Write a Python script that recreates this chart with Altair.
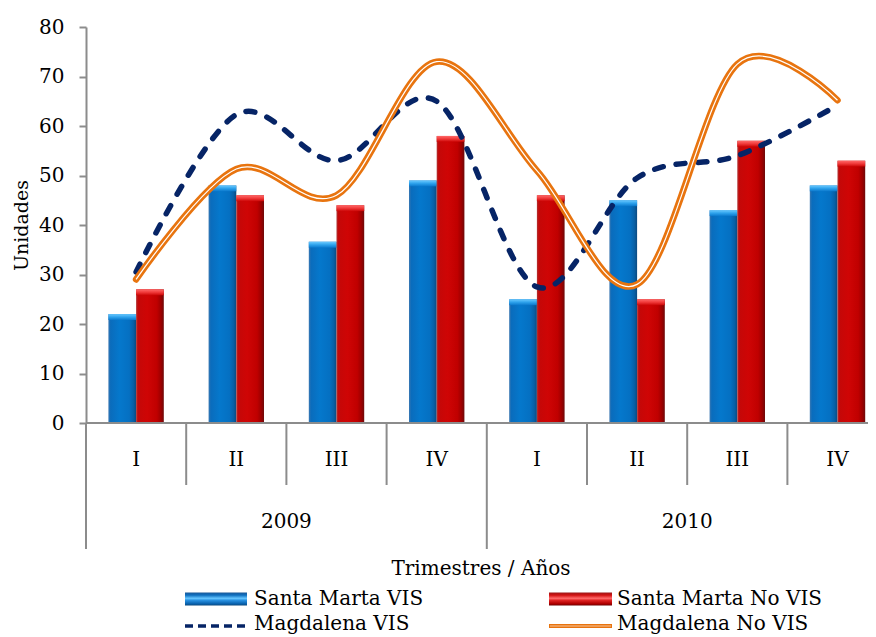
import altair as alt
import pandas as pd

# ---------------- data ----------------
quarters = ["I", "II", "III", "IV"]
years = ["2009", "2010"]
cats = [f"{q} {y}" for y in years for q in quarters]
series = ["Santa Marta VIS", "Santa Marta No VIS", "Magdalena VIS", "Magdalena No VIS"]
sm_vis = [22, 48, 36.6, 49, 25, 45, 43, 48]
sm_novis = [27, 46, 44, 58, 46, 25, 57, 53]
mg_vis = [30.5, 62.3, 53, 65, 27.5, 49.5, 54, 64.2]
mg_novis = [29, 51.3, 46, 73, 51, 28, 72.5, 65.2]
y_ticks = [0, 10, 20, 30, 40, 50, 60, 70, 80]
x_title = "Trimestres / Años"
y_title = "Unidades"

FONT = "DejaVu Serif"
W, H = 782, 396
RW = 801.6  # plot range extends past the window edge, as in the original

vals = [sm_vis, sm_novis, mg_vis, mg_novis]
main_df = pd.DataFrame(
    [{"cat": c, "series": s, "v": v} for s, vs in zip(series, vals) for c, v in zip(cats, vs)]
)

# ---------------- styles ----------------
def hgrad(stops):
    return alt.Gradient(gradient="linear", x1=0, x2=1, y1=0, y2=0,
                        stops=[alt.GradientStop(offset=o, color=c) for o, c in stops])

def vgrad(stops):
    return alt.Gradient(gradient="linear", x1=0, x2=0, y1=0, y2=1,
                        stops=[alt.GradientStop(offset=o, color=c) for o, c in stops])

blue_bar = hgrad([(0, "#3c78b2"), (0.08, "#0a6cbc"), (0.4, "#0578cc"), (0.75, "#0570c2"), (0.9, "#0860a6"), (1, "#0c4a80")])
red_bar = hgrad([(0, "#b03434"), (0.07, "#c40808"), (0.4, "#cf0505"), (0.75, "#c00000"), (0.9, "#9c0000"), (1, "#6e0a0a")])
blue_cap = vgrad([(0, "#6ccaff"), (0.5, "#2ea2ec"), (1, "#0a78cc")])
red_cap = vgrad([(0, "#ff6a6a"), (0.5, "#f03a3a"), (1, "#cc0606")])
blue_leg = vgrad([(0, "#1c5a98"), (0.2, "#0e6ebe"), (0.45, "#66c6ff"), (0.6, "#2a92e2"), (0.85, "#0a64b0"), (1, "#0b4a80")])
red_leg = vgrad([(0, "#9a1a1a"), (0.2, "#d01010"), (0.45, "#ff6a6a"), (0.6, "#e02424"), (0.85, "#b00000"), (1, "#700000")])
NAVY = "#062466"
ORANGE = "#e8740f"
AXIS_GRAY = "#8c8c8c"

# ---------------- main plot ----------------
xband = alt.X("cat:N", sort=cats,
              scale=alt.Scale(domain=cats, rangeMin=0, rangeMax=RW,
                              paddingInner=0.447, paddingOuter=0.2235),
              axis=None)
xoff = alt.XOffset("series:N", scale=alt.Scale(domain=series[:2], paddingInner=0, paddingOuter=0))
yenc = alt.Y("v:Q", scale=alt.Scale(domain=[0, 80], nice=False),
             axis=alt.Axis(values=y_ticks, grid=False, domainColor=AXIS_GRAY, domainWidth=2,
                           tickColor=AXIS_GRAY, tickWidth=2, tickSize=7,
                           labelFont=FONT, labelFontSize=20, labelColor="black", labelPadding=15,
                           title=y_title, titleFont=FONT, titleFontSize=19, titleFontWeight="normal",
                           titleColor="black", titleAngle=270, titleX=-65, titleY=H / 2,
                           titleAlign="center", titleBaseline="middle"))

base = alt.Chart(main_df)

def bars(name, grad, cap):
    b = base.transform_filter(alt.datum.series == name).mark_bar(color=grad).encode(
        x=xband, xOffset=xoff, y=yenc)
    c = base.transform_filter(alt.datum.series == name).transform_calculate(
        v2="datum.v - 1.2").mark_bar(color=cap).encode(x=xband, xOffset=xoff, y=yenc, y2="v2:Q")
    return [b, c]

dash_line = base.transform_filter(alt.datum.series == series[2]).mark_line(
    interpolate="cardinal", color=NAVY, strokeWidth=5.5, strokeDash=[9, 13], strokeCap="round"
).encode(x=xband, y=yenc)
orange_outer = base.transform_filter(alt.datum.series == series[3]).mark_line(
    interpolate="cardinal", color=ORANGE, strokeWidth=6.5, strokeCap="round"
).encode(x=xband, y=yenc)
orange_inner = base.transform_filter(alt.datum.series == series[3]).mark_line(
    interpolate="cardinal", color="white", strokeWidth=1.2
).encode(x=xband, y=yenc)

main = alt.layer(*bars(series[0], blue_bar, blue_cap), *bars(series[1], red_bar, red_cap),
                 dash_line, orange_outer, orange_inner)

# ---------------- two-level category axis ----------------
n = len(cats)
nq = len(quarters)
qx = alt.X("p:Q", scale=alt.Scale(domain=[0, n], rangeMin=0, rangeMax=RW), axis=None)

dom_df = pd.DataFrame({"p": [0], "p2": [n]})
qsep_df = pd.DataFrame({"p": [i for i in range(1, n) if i % nq != 0]})
ysep_df = pd.DataFrame({"p": [i for i in range(0, n + 1) if i % nq == 0]})
qlab_df = pd.DataFrame({"p": [i + 0.5 for i in range(n)], "t": [c.split(" ")[0] for c in cats]})
ylab_df = pd.DataFrame({"p": [k * nq + nq / 2 for k in range(len(years))], "t": years})

dom_rule = alt.Chart(dom_df).mark_rule(color=AXIS_GRAY, strokeWidth=2).encode(
    x=qx, x2="p2:Q", y=alt.value(H))
qsep = alt.Chart(qsep_df).mark_rule(color=AXIS_GRAY, strokeWidth=2).encode(
    x=qx, y=alt.value(H), y2=alt.value(H + 62))
ysep = alt.Chart(ysep_df).mark_rule(color=AXIS_GRAY, strokeWidth=2).encode(
    x=qx, y=alt.value(H), y2=alt.value(H + 126))
qlab = alt.Chart(qlab_df).mark_text(font=FONT, fontSize=20, color="black", baseline="middle").encode(
    x=qx, y=alt.value(H + 37), text="t:N")
ylab = alt.Chart(ylab_df).mark_text(font=FONT, fontSize=20, color="black", baseline="middle").encode(
    x=qx, y=alt.value(H + 99), text="t:N")

axis_layer = alt.layer(dom_rule, qsep, ysep, qlab, ylab)

# ---------------- x title ----------------
xt = alt.Chart(pd.DataFrame({"t": [x_title]})).mark_text(
    font=FONT, fontSize=20, color="black", baseline="middle", align="center"
).encode(x=alt.value(395), y=alt.value(H + 146), text="t:N")

# ---------------- legend ----------------
one = pd.DataFrame({"t": [""]})
def leg_text(label, x, y):
    return alt.Chart(pd.DataFrame({"t": [label]})).mark_text(
        font=FONT, fontSize=20, color="black", baseline="middle", align="left"
    ).encode(x=alt.value(x), y=alt.value(y), text="t:N")

R1, R2 = H + 176, H + 201
C1, C2 = 99, 463
leg = [
    alt.Chart(one).mark_rect(color=blue_leg).encode(
        x=alt.value(C1), x2=alt.value(C1 + 62), y=alt.value(R1 - 6.5), y2=alt.value(R1 + 6.5)),
    alt.Chart(one).mark_rect(color=red_leg).encode(
        x=alt.value(C2), x2=alt.value(C2 + 63), y=alt.value(R1 - 6.5), y2=alt.value(R1 + 6.5)),
    alt.Chart(one).mark_rule(color=NAVY, strokeWidth=3.5, strokeDash=[8, 5]).encode(
        x=alt.value(C1), x2=alt.value(C1 + 62), y=alt.value(R2 + 2)),
    alt.Chart(one).mark_rule(color=ORANGE, strokeWidth=4).encode(
        x=alt.value(C2), x2=alt.value(C2 + 63), y=alt.value(R2 + 2)),
    alt.Chart(one).mark_rule(color="#f7c7a0", strokeWidth=1).encode(
        x=alt.value(C2 + 1), x2=alt.value(C2 + 62), y=alt.value(R2 + 2)),
    leg_text(series[0], C1 + 69, R1),
    leg_text(series[1], C2 + 68, R1),
    leg_text(series[2], C1 + 69, R2),
    leg_text(series[3], C2 + 68, R2),
]

chart = alt.layer(main, axis_layer, xt, *leg).resolve_scale(x="independent").properties(
    width=W, height=H,
    padding={"left": 78, "top": 19, "right": 0, "bottom": 214},
    autosize=alt.AutoSizeParams(type="none"),
).configure_view(stroke=None)

chart.save("out.html", embed_options={"renderer": "svg", "actions": False})
